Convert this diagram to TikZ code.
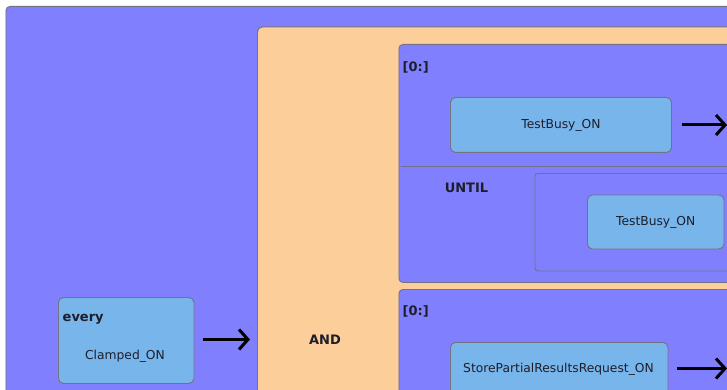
\documentclass[tikz,border=0pt]{standalone}
\usepackage{fontspec}
\setmainfont{DejaVu Sans}
\usetikzlibrary{arrows.meta}

\definecolor{regionblue}{HTML}{8080FF}
\definecolor{andorange}{HTML}{FCCE9A}
\definecolor{eventblue}{HTML}{78B5EB}
\definecolor{edgegray}{HTML}{727284}
\definecolor{inkdark}{HTML}{1E1E2A}

\tikzset{
  region/.style={draw=edgegray, line width=0.9pt, fill=regionblue, rounded corners=4pt,
                 anchor=north west, inner sep=0pt},
  andblock/.style={draw=edgegray, line width=0.9pt, fill=andorange, rounded corners=5pt,
                 anchor=north west, inner sep=0pt},
  event/.style={draw=edgegray, line width=0.9pt, fill=eventblue, rounded corners=5pt,
                 anchor=north west, inner sep=0pt},
  evtext/.style={text=inkdark, font=\fontsize{12.3}{14}\selectfont, inner sep=0pt},
  kw/.style={text=inkdark, font=\fontsize{13}{15}\selectfont\bfseries, inner sep=0pt},
  flow/.style={-{Straight Barb[length=9pt, width=20pt, line width=3pt]}, line width=3pt, black}
}

\begin{document}
\begin{tikzpicture}[x=1pt, y=-1pt]
  \useasboundingbox (0,0) rectangle (727,390);
  \fill[white] (0,0) rectangle (727,390);
  \clip (0,0) rectangle (727,390);

  % outer periodic region
  \node[region, minimum width=780pt, minimum height=420pt] (outer) at (5.5,6) {};

  % AND block
  \node[andblock, minimum width=500pt, minimum height=400pt] (andblk) at (257,26.5) {};
  \node[kw] (andlbl) at (325,340) {AND};

  % every Clamped_ON trigger
  \node[event, minimum width=135.5pt, minimum height=86pt] (every) at (58,297) {};
  \node[kw, anchor=west] (everylbl) at (62.5,319.5) {every};
  \node[evtext] (clamped) at (125,356) {Clamped\_ON};
  \coordinate (everyout) at (203,339.5);
  \coordinate (andin) at (250,339.5);
  \draw[flow] (everyout) -- (andin);

  % first repeated branch with UNTIL
  \node[region, minimum width=360pt, minimum height=238pt] (branchA) at (398.5,44) {};
  \node[kw, anchor=west] (rangeA) at (402.5,67) {[0:]};
  \node[event, minimum width=221pt, minimum height=55pt] (busyA) at (450,97) {};
  \node[evtext] (busyAlbl) at (busyA.center) {TestBusy\_ON};
  \coordinate (busyAstart) at (681.5,125);
  \coordinate (busyAout) at (727,125);
  \draw[flow] (busyAstart) -- (busyAout);

  \coordinate (sepL) at (400.5,166.5);
  \coordinate (sepR) at (760,166.5);
  \draw[edgegray, line width=1pt] (sepL) -- (sepR);
  \node[kw] (untillbl) at (466.5,188) {UNTIL};

  \node[draw=edgegray, line width=0.9pt, fill=regionblue, rounded corners=3pt,
        anchor=north west, inner sep=0pt, minimum width=230pt, minimum height=97.5pt]
        (untilbox) at (534.5,173) {};
  \node[event, minimum width=136.5pt, minimum height=54pt] (busyB) at (587,194.5) {};
  \node[evtext] (busyBlbl) at (busyB.center) {TestBusy\_ON};

  % second repeated branch
  \node[region, minimum width=360pt, minimum height=140pt] (branchB) at (398.5,289) {};
  \node[kw, anchor=west] (rangeB) at (402.5,311.5) {[0:]};
  \node[event, minimum width=217.5pt, minimum height=80pt] (store) at (450,342) {};
  \node[evtext] (storelbl) at (558.5,369) {StorePartialResultsRequest\_ON};
  \coordinate (storestart) at (677,368.5);
  \coordinate (storeout) at (727,368.5);
  \draw[flow] (storestart) -- (storeout);
\end{tikzpicture}
\end{document}
